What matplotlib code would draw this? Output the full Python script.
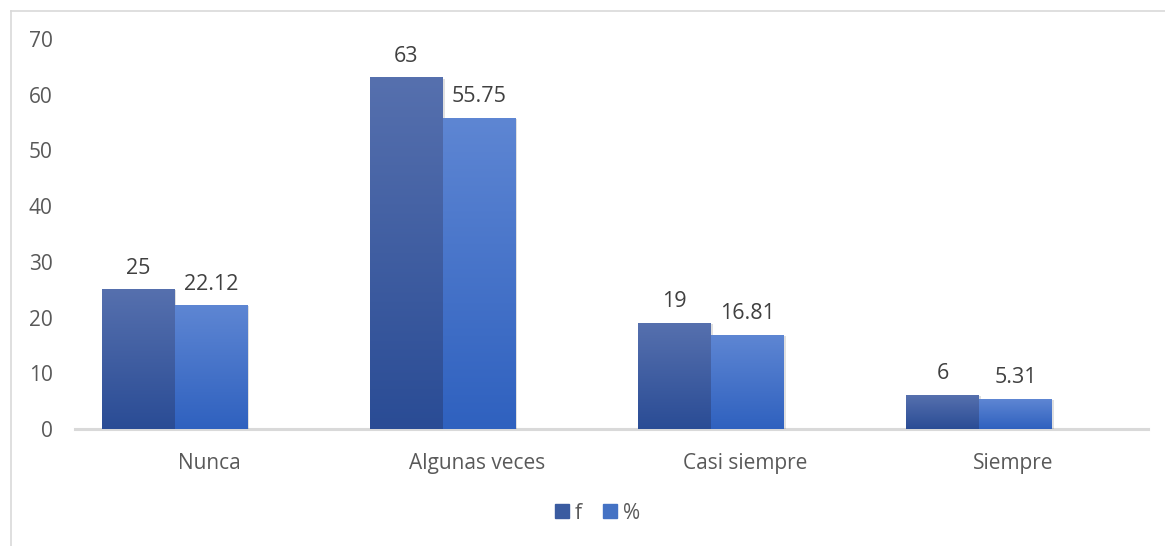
import numpy as np
import matplotlib.pyplot as plt
from matplotlib.colors import LinearSegmentedColormap
from matplotlib.patches import Rectangle
from matplotlib.lines import Line2D

categorias = ['Nunca', 'Algunas veces', 'Casi siempre', 'Siempre']
f_vals = [25, 63, 19, 6]
pct_vals = [22.12, 55.75, 16.81, 5.31]
etiquetas_f = ['25', '63', '19', '6']
etiquetas_pct = ['22.12', '55.75', '16.81', '5.31']

plt.rcParams['font.family'] = ['Open Sans', 'DejaVu Sans']
gris = '#595959'

fig = plt.figure(figsize=(11.65, 5.46), dpi=100)
ax = fig.add_axes([0.0644, 0.2143, 0.9206, 0.7143])

cmap_f = LinearSegmentedColormap.from_list('f', ['#2A4C95', '#5670AE'])
cmap_p = LinearSegmentedColormap.from_list('p', ['#2F61BF', '#5E86D3'])
grad = np.linspace(0, 1, 256).reshape(-1, 1)

x = np.arange(len(categorias))
w = 0.272
# las barras del original quedan corridas a la izquierda de su etiqueta
desplaz = -0.128

def barras(xs, vals, cmap, labels):
    for xi, v, lab in zip(xs, vals, labels):
        # sombra
        ax.add_patch(Rectangle((xi + 0.006, -0.4), w, v + 0.3, color='#000000',
                               alpha=0.12, lw=0, zorder=1))
        ax.imshow(grad, cmap=cmap, origin='lower', aspect='auto',
                  extent=(xi, xi + w, 0, v), zorder=2)
        ax.text(xi + w / 2, v + 2.0, lab, ha='center', va='bottom',
                fontsize=15.5, color='#404040')

barras(x + desplaz - w, f_vals, cmap_f, etiquetas_f)
barras(x + desplaz, pct_vals, cmap_p, etiquetas_pct)

ax.set_xlim(-0.5, len(categorias) - 0.5)
ax.set_ylim(0, 70)
ax.set_yticks(range(0, 71, 10))
ax.set_xticks(x)
ax.set_xticklabels(categorias)
ax.tick_params(axis='both', length=0, labelsize=15, labelcolor=gris)
ax.tick_params(axis='x', pad=17)
ax.tick_params(axis='y', pad=16)
for s in ['top', 'right', 'left']:
    ax.spines[s].set_visible(False)
ax.spines['bottom'].set_color('#D9D9D9')
ax.spines['bottom'].set_linewidth(2.2)
ax.spines['bottom'].set_zorder(0)

handles = [Rectangle((0, 0), 1, 1, color='#3A5BA0'),
           Rectangle((0, 0), 1, 1, color='#4472C4')]
fig.legend(handles, ['f', '%'], loc='center', bbox_to_anchor=(0.513, 0.06),
           ncol=2, frameon=False, fontsize=15, labelcolor=gris,
           handlelength=0.65, handleheight=0.65, handletextpad=0.3,
           columnspacing=1.0)

# borde del gráfico
fig.add_artist(Line2D([11 / 1165, 11 / 1165], [0, 1 - 11 / 546],
                      transform=fig.transFigure, color='#D9D9D9', lw=1.2))
fig.add_artist(Line2D([11 / 1165, 1], [1 - 11 / 546, 1 - 11 / 546],
                      transform=fig.transFigure, color='#D9D9D9', lw=1.2))

fig.savefig('out.png', dpi=100)
